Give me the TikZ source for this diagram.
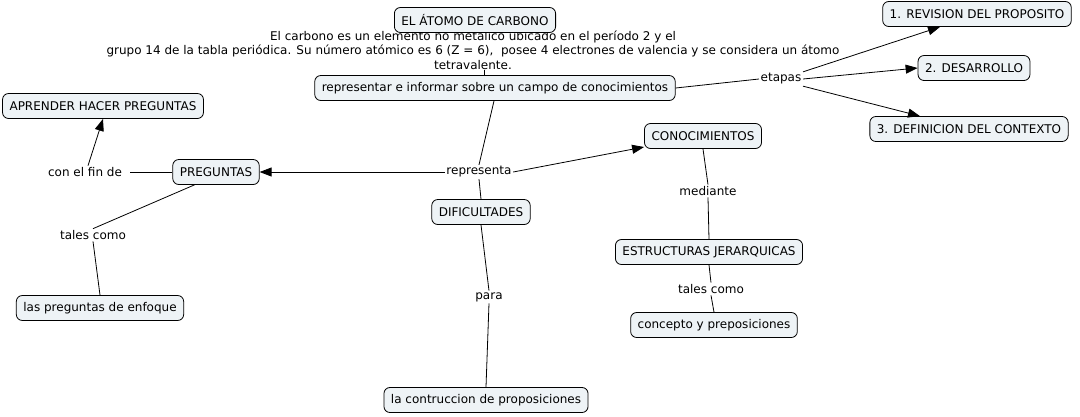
\documentclass[tikz,border=0pt]{standalone}
\usepackage{fontspec}
\setmainfont{DejaVu Sans}
\usetikzlibrary{arrows.meta}
\definecolor{boxfill}{HTML}{EEF3F6}
\tikzset{
  concept/.style={draw=black, line width=0.8pt, rounded corners=6pt, fill=boxfill,
    inner xsep=7pt, minimum height=25pt, font=\fontsize{12}{14}\selectfont},
  linklabel/.style={inner sep=1.5pt, font=\fontsize{12}{14}\selectfont},
  conn/.style={draw=black, line width=0.8pt},
  arr/.style={conn, -{Triangle[length=12pt,width=9pt]}}
}
\begin{document}
\begin{tikzpicture}[x=1pt,y=-1pt]
\useasboundingbox (0,0) rectangle (1080,416);
% body text (under the title box)
\node[font=\fontsize{12}{14.5}\selectfont, align=center, inner sep=0pt] (body) at (473,50)
  {El carbono es un elemento no metálico ubicado en el período 2 y el\\
   grupo 14 de la tabla periódica. Su número atómico es 6 (Z = 6),\ \ posee 4 electrones de valencia y se considera un átomo\\
   tetravalente.};
\node[concept] (atomo) at (475,20) {EL ÁTOMO DE CARBONO};
\node[concept] (repr) at (495,88) {representar e informar sobre un campo de conocimientos};
\node[concept] (rev) at (977,14) {1. REVISION DEL PROPOSITO};
\node[concept] (des) at (974,68) {2. DESARROLLO};
\node[concept] (def) at (969,129) {3. DEFINICION DEL CONTEXTO};
\node[concept] (apr) at (103,106) {APRENDER HACER PREGUNTAS};
\node[concept] (preg) at (216,172) {PREGUNTAS};
\node[concept] (enf) at (100,308) {las preguntas de enfoque};
\node[concept] (dif) at (481,212) {DIFICULTADES};
\node[concept] (cono) at (703,136) {CONOCIMIENTOS};
\node[concept] (estr) at (709,252) {ESTRUCTURAS JERARQUICAS};
\node[concept] (conc) at (714,325) {concepto y preposiciones};
\node[concept] (contr) at (486,400) {la contruccion de proposiciones};
% link labels
\node[linklabel] (etapas) at (781,79) {etapas};
\node[linklabel] (representa) at (479,172) {representa};
\node[linklabel] (finde) at (85,172) {con el fin de};
\node[linklabel] (tales1) at (93,235) {tales como};
\node[linklabel] (para) at (489,297) {para};
\node[linklabel] (mediante) at (708,191) {mediante};
\node[linklabel] (tales2) at (711,289) {tales como};
% connectors
\draw[conn] (body.south) ++(11,0) coordinate (bs) -- (repr.north -| bs);
\draw[conn] ([xshift=-1pt]repr.south) -- (representa.north);
\draw[conn] (representa.south) -- (dif.north);
\draw[arr] (representa.west) -- (preg.east);
\draw[arr] (representa.east) -- (cono.west |- 0,147);
\draw[conn] (preg.west) -- ([xshift=6pt]finde.east);
\draw[arr] (finde.north) ++(3,0) -- (apr.south);
\draw[conn] (preg.south west) ++(22,0) -- (tales1.north);
\draw[conn] (tales1.south) -- (enf.north);
\draw[conn] (dif.south) -- (para.north);
\draw[conn] (para.south) -- (contr.north);
\draw[conn] (cono.south) -- (mediante.north);
\draw[conn] (mediante.south) -- (estr.north);
\draw[conn] (estr.south) -- (tales2.north);
\draw[conn] (tales2.south) -- (conc.north);
\draw[conn] (repr.east) -- (etapas.west);
\draw[arr] (etapas.north east) -- (rev.south west -| 940,0);
\draw[arr] (etapas.east) -- (des.west);
\draw[arr] (etapas.south east) -- (def.north west -| 920,0);
\end{tikzpicture}
\end{document}
